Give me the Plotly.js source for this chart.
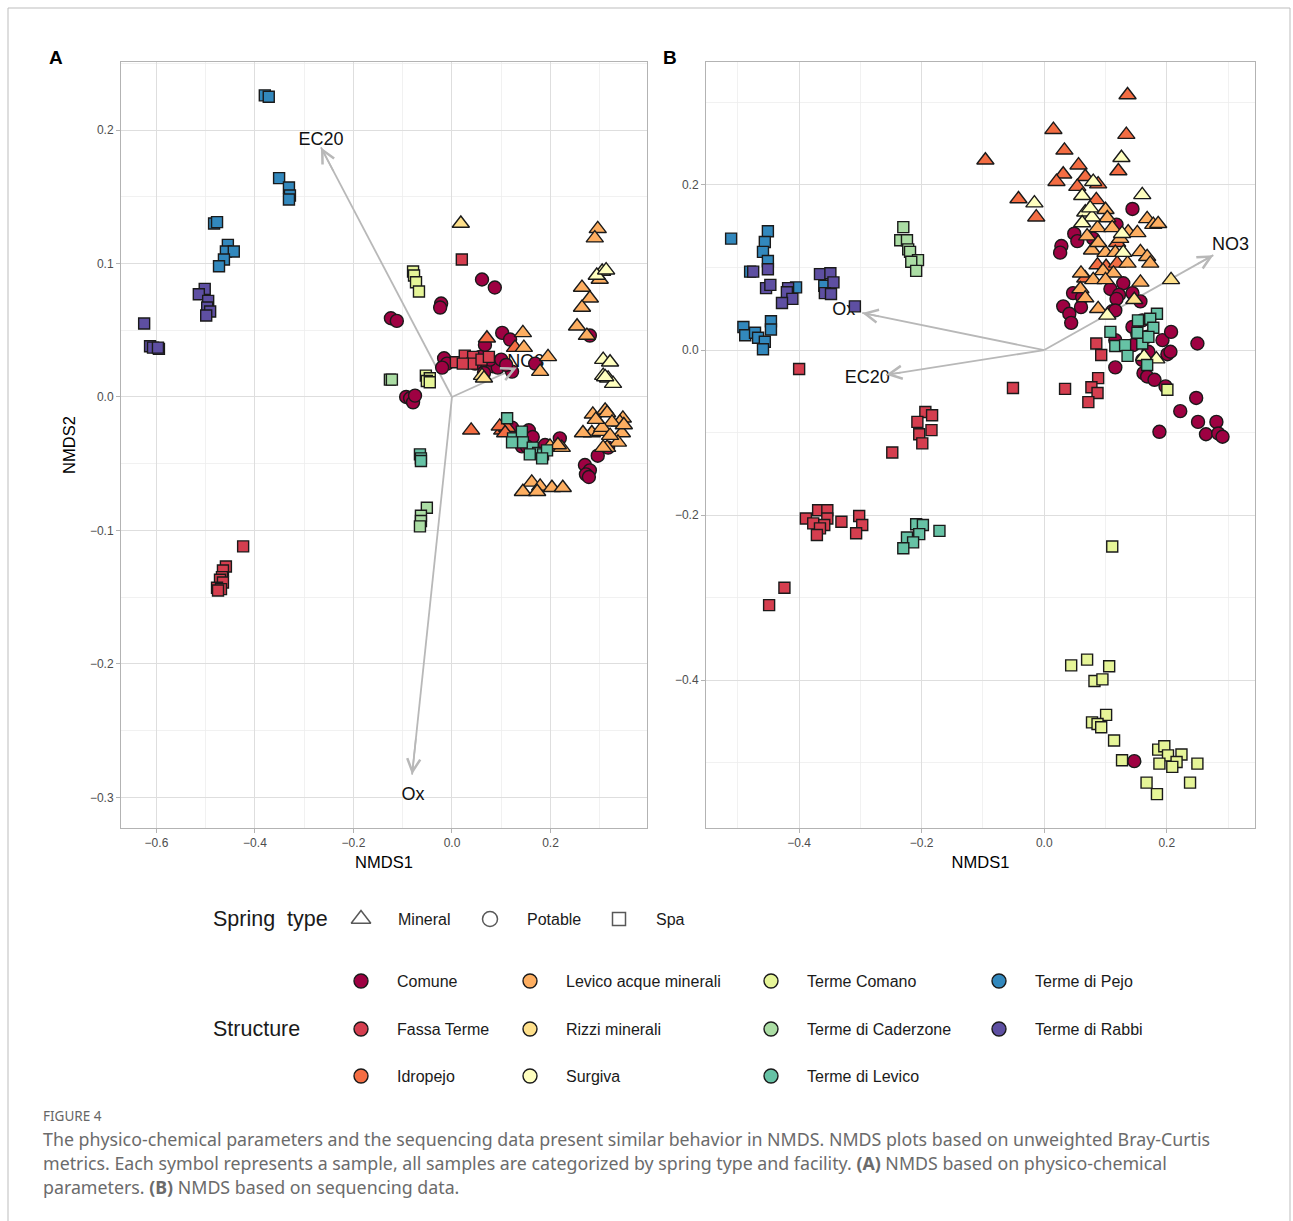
<!DOCTYPE html>
<html>
<head>
<meta charset="utf-8">
<script src="https://cdn.plot.ly/plotly-3.0.1.min.js"></script>
<style>html,body{margin:0;padding:0;background:#fff;}#chart{width:1293px;height:1221px;}</style>
</head>
<body>
<div id="chart"></div>
<script>
// ---------- categories ----------
const STRUCTS = ['Comune','Fassa Terme','Idropejo','Levico acque minerali','Rizzi minerali','Surgiva','Terme Comano','Terme di Caderzone','Terme di Levico','Terme di Pejo','Terme di Rabbi'];
const COLORS  = ['#9E0142','#D53E4F','#F46D43','#FDAE61','#FEE08B','#FFFFBF','#E6F598','#ABDDA4','#66C2A5','#3288BD','#5E4FA2'];
const TYPE_OF = ['Potable','Spa','Mineral','Mineral','Mineral','Mineral','Spa','Spa','Spa','Spa','Spa'];
const SPRING_TYPES = ['Mineral','Potable','Spa'];

// ---------- Panel A : physico-chemical NMDS ----------
const A_Comune = [[0.061,0.088],[0.087,0.082],[-0.022,0.070],[-0.024,0.067],[-0.124,0.059],[-0.112,0.057],[0.102,0.048],[0.118,0.043],[0.067,0.039],[-0.016,0.029],[-0.010,0.025],[-0.020,0.022],[0.057,0.030],[0.071,0.025],[0.083,0.023],[0.093,0.022],[0.077,0.028],[0.122,0.019],[0.169,0.025],[0.047,0.025],[0.065,0.018],[0.100,0.028],[0.110,0.024],[-0.093,0.000],[-0.085,-0.001],[-0.079,-0.004],[-0.075,0.001],[0.280,0.046],[0.122,-0.023],[0.156,-0.025],[0.164,-0.030],[0.142,-0.037],[0.152,-0.037],[0.189,-0.036],[0.219,-0.031],[0.296,-0.044],[0.317,-0.038],[0.270,-0.051],[0.280,-0.055],[0.272,-0.058],[0.278,-0.060]];
const A_Fassa = [[-0.424,-0.112],[-0.459,-0.127],[-0.465,-0.130],[-0.467,-0.135],[-0.471,-0.137],[-0.465,-0.139],[-0.477,-0.143],[-0.469,-0.144],[-0.475,-0.145],[0.020,0.103],[0.008,0.026],[0.026,0.031],[0.043,0.030],[0.041,0.025],[0.022,0.025],[0.060,0.028],[0.075,0.030]];
const A_Idropejo = [[0.039,-0.025],[0.102,-0.025],[0.112,-0.023],[0.097,-0.022],[0.108,-0.027],[0.128,0.037],[0.071,0.044]];
const A_LevicoAcque = [[0.296,0.126],[0.290,0.119],[0.300,0.088],[0.264,0.082],[0.280,0.074],[0.264,0.067],[0.254,0.053],[0.274,0.046],[0.144,0.048],[0.146,0.037],[0.195,0.030],[0.179,0.019],[0.286,-0.013],[0.311,-0.010],[0.315,-0.012],[0.347,-0.016],[0.341,-0.019],[0.325,-0.019],[0.284,-0.027],[0.266,-0.027],[0.301,-0.026],[0.305,-0.023],[0.345,-0.027],[0.337,-0.034],[0.315,-0.038],[0.307,-0.038],[0.349,-0.021],[0.292,-0.017],[0.321,-0.029],[0.199,-0.037],[0.223,-0.038],[0.215,-0.036],[0.162,-0.064],[0.144,-0.071],[0.179,-0.067],[0.203,-0.068],[0.225,-0.068],[0.173,-0.071]];
const A_Rizzi = [[0.018,0.130],[0.061,0.016],[0.065,0.014]];
const A_Surgiva = [[0.305,0.094],[0.294,0.091],[0.313,0.095],[0.307,0.028],[0.321,0.026],[0.307,0.016],[0.317,0.014],[0.327,0.010],[0.311,0.015]];
const A_Comano = [[-0.079,0.094],[-0.077,0.091],[-0.073,0.086],[-0.067,0.079],[-0.053,0.016],[-0.045,0.014],[-0.051,0.012],[-0.045,0.011]];
const A_Caderzone = [[-0.126,0.013],[-0.122,0.013],[-0.051,-0.083],[-0.063,-0.089],[-0.063,-0.093],[-0.065,-0.097]];
const A_LevicoTerme = [[-0.065,-0.043],[-0.063,-0.046],[-0.063,-0.048],[0.112,-0.016],[0.124,-0.031],[0.142,-0.026],[0.144,-0.034],[0.164,-0.038],[0.175,-0.042],[0.185,-0.043],[0.193,-0.040],[0.183,-0.046],[0.122,-0.034],[0.158,-0.043]];
const A_Pejo = [[-0.380,0.226],[-0.372,0.225],[-0.351,0.164],[-0.331,0.157],[-0.329,0.151],[-0.331,0.148],[-0.483,0.130],[-0.477,0.131],[-0.455,0.114],[-0.459,0.109],[-0.443,0.109],[-0.463,0.103],[-0.473,0.098]];
const A_Rabbi = [[-0.502,0.081],[-0.514,0.077],[-0.495,0.072],[-0.497,0.067],[-0.491,0.064],[-0.499,0.061],[-0.625,0.055],[-0.613,0.038],[-0.607,0.037],[-0.595,0.036],[-0.597,0.037]];
const A_VECTORS = ['EC20','Ox','NO3'];
const A_VEC_X = [-0.266,-0.081,0.132];
const A_VEC_Y = [0.187,-0.283,0.022];
const A_LAB_X = [-0.266,-0.079,0.150];
const A_LAB_Y = [0.192,-0.299,0.026];

// ---------- Panel B : sequencing NMDS ----------
const B_Comune = [[0.144,0.171],[0.118,0.152],[0.080,0.135],[0.049,0.141],[0.054,0.132],[0.028,0.126],[0.026,0.118],[0.129,0.081],[0.108,0.074],[0.122,0.067],[0.118,0.062],[0.144,0.069],[0.157,0.059],[0.047,0.069],[0.062,0.064],[0.060,0.052],[0.031,0.053],[0.041,0.044],[0.044,0.033],[0.111,0.047],[0.116,0.048],[0.160,0.036],[0.144,0.028],[0.152,0.019],[0.167,0.016],[0.193,0.012],[0.207,0.022],[0.116,0.012],[0.145,0.006],[0.170,-0.002],[0.160,-0.012],[0.201,-0.005],[0.206,-0.002],[0.116,-0.021],[0.162,-0.028],[0.168,-0.032],[0.180,-0.036],[0.198,-0.044],[0.250,0.008],[0.248,-0.058],[0.222,-0.074],[0.251,-0.087],[0.281,-0.087],[0.264,-0.102],[0.284,-0.101],[0.291,-0.105],[0.188,-0.099],[0.147,-0.498]];
const B_Fassa = [[-0.400,-0.023],[-0.051,-0.046],[-0.194,-0.075],[-0.183,-0.079],[-0.207,-0.087],[-0.204,-0.102],[-0.184,-0.097],[-0.199,-0.113],[-0.248,-0.124],[-0.369,-0.194],[-0.354,-0.194],[-0.389,-0.204],[-0.354,-0.204],[-0.377,-0.210],[-0.359,-0.212],[-0.366,-0.216],[-0.371,-0.224],[-0.331,-0.208],[-0.302,-0.201],[-0.297,-0.212],[-0.307,-0.222],[-0.424,-0.288],[-0.449,-0.309],[0.085,0.008],[0.093,-0.006],[0.088,-0.034],[0.077,-0.045],[0.087,-0.052],[0.072,-0.063],[0.034,-0.047]];
const B_Idropejo = [[0.136,0.309],[0.015,0.267],[0.134,0.261],[0.033,0.242],[0.056,0.224],[0.031,0.213],[0.020,0.204],[0.067,0.210],[0.088,0.201],[0.121,0.217],[0.054,0.198],[-0.042,0.183],[-0.013,0.161],[0.085,0.182],[0.119,0.130],[0.087,0.103],[0.101,0.101],[0.119,0.105],[0.067,0.087],[-0.096,0.230]];
const B_LevicoAcque = [[0.168,0.159],[0.178,0.152],[0.186,0.153],[0.100,0.170],[0.103,0.160],[0.087,0.148],[0.111,0.148],[0.070,0.138],[0.137,0.143],[0.152,0.142],[0.078,0.121],[0.100,0.118],[0.116,0.118],[0.136,0.105],[0.157,0.119],[0.168,0.113],[0.173,0.105],[0.096,0.096],[0.113,0.093],[0.060,0.093],[0.080,0.085],[0.100,0.085],[0.157,0.082],[0.059,0.074],[0.067,0.063],[0.088,0.050],[0.124,0.135],[0.088,0.130]];
const B_Rizzi = [[0.207,0.085],[0.147,0.061]];
const B_Surgiva = [[0.126,0.233],[0.160,0.188],[-0.016,0.178],[0.080,0.204],[0.062,0.187],[0.067,0.167],[0.078,0.161],[0.062,0.154],[0.127,0.141],[0.129,0.118],[0.075,0.172],[0.103,0.042],[0.163,-0.008],[0.183,-0.011]];
const B_Comano = [[0.044,-0.382],[0.070,-0.375],[0.106,-0.383],[0.082,-0.401],[0.095,-0.399],[0.101,-0.442],[0.078,-0.451],[0.087,-0.453],[0.093,-0.457],[0.114,-0.473],[0.127,-0.497],[0.186,-0.484],[0.196,-0.480],[0.202,-0.491],[0.224,-0.490],[0.216,-0.499],[0.188,-0.501],[0.209,-0.505],[0.250,-0.501],[0.167,-0.524],[0.238,-0.524],[0.184,-0.538],[0.111,-0.238],[0.201,-0.048]];
const B_Caderzone = [[-0.230,0.149],[-0.235,0.133],[-0.224,0.133],[-0.222,0.122],[-0.219,0.119],[-0.206,0.109],[-0.217,0.107],[-0.209,0.096]];
const B_LevicoTerme = [[-0.209,-0.211],[-0.198,-0.212],[-0.171,-0.219],[-0.224,-0.227],[-0.204,-0.223],[-0.214,-0.233],[-0.230,-0.240],[0.184,0.044],[0.173,0.038],[0.153,0.036],[0.178,0.027],[0.108,0.022],[0.116,0.005],[0.132,0.006],[0.160,0.008],[0.136,-0.007],[0.168,-0.018],[0.152,0.021],[0.170,0.016]];
const B_Pejo = [[-0.511,0.135],[-0.451,0.144],[-0.456,0.131],[-0.459,0.119],[-0.451,0.108],[-0.480,0.095],[-0.405,0.076],[-0.359,0.078],[-0.491,0.028],[-0.488,0.018],[-0.472,0.021],[-0.467,0.015],[-0.456,0.010],[-0.459,0.001],[-0.446,0.035],[-0.446,0.025]];
const B_Rabbi = [[-0.475,0.095],[-0.451,0.098],[-0.454,0.075],[-0.447,0.079],[-0.418,0.075],[-0.420,0.070],[-0.411,0.062],[-0.428,0.057],[-0.366,0.092],[-0.349,0.093],[-0.344,0.082],[-0.358,0.069],[-0.348,0.068],[-0.309,0.053]];
const B_VECTORS = ['NO3','Ox','EC20'];
const B_VEC_X = [0.276,-0.297,-0.258];
const B_VEC_Y = [0.115,0.045,-0.030];
const B_LAB_X = [0.304,-0.327,-0.289];
const B_LAB_Y = [0.127,0.048,-0.034];

const A_DATA = [A_Comune,A_Fassa,A_Idropejo,A_LevicoAcque,A_Rizzi,A_Surgiva,A_Comano,A_Caderzone,A_LevicoTerme,A_Pejo,A_Rabbi];
const B_DATA = [B_Comune,B_Fassa,B_Idropejo,B_LevicoAcque,B_Rizzi,B_Surgiva,B_Comano,B_Caderzone,B_LevicoTerme,B_Pejo,B_Rabbi];

// ---------- styling ----------
const SYM = {Mineral:'triangle-up', Potable:'circle', Spa:'square'};
const SIZE = {Mineral:15, Potable:13, Spa:11};
const W = 1293, H = 1221;
const FONT = 'Liberation Sans, Arial, sans-serif';
const ARROW_COL = '#B8B8B8';

const traces = [];
const annotations = [];

function addVectors(names, vx, vy, lx, ly, xa, ya){
  for (let i=0;i<names.length;i++){
    traces.push({type:'scatter', mode:'lines', x:[0,vx[i]], y:[0,vy[i]], xaxis:xa, yaxis:ya,
      line:{color:ARROW_COL, width:1.8}, hoverinfo:'skip'});
    annotations.push({xref:xa, yref:ya, axref:xa, ayref:ya, x:vx[i], y:vy[i], ax:vx[i]*0.9, ay:vy[i]*0.9,
      showarrow:true, arrowhead:5, arrowsize:1.6, arrowwidth:1.6, arrowcolor:ARROW_COL, text:''});
  }
  traces.push({type:'scatter', mode:'text', x:lx, y:ly, text:names, xaxis:xa, yaxis:ya,
    textfont:{family:FONT, size:18, color:'#111'}, textposition:'middle center', hoverinfo:'skip'});
}
function addPoints(data, xa, ya){
  data.forEach((pts, k)=>{
    const t = TYPE_OF[k];
    traces.push({type:'scatter', mode:'markers', xaxis:xa, yaxis:ya,
      x:pts.map(p=>p[0]), y:pts.map(p=>p[1]), name:STRUCTS[k],
      marker:{symbol:SYM[t], size:SIZE[t], color:COLORS[k], line:{color:'#1A1A1A', width:1.4}}});
  });
}
addVectors(A_VECTORS, A_VEC_X, A_VEC_Y, A_LAB_X, A_LAB_Y, 'x', 'y');
addPoints(A_DATA, 'x', 'y');
addVectors(B_VECTORS, B_VEC_X, B_VEC_Y, B_LAB_X, B_LAB_Y, 'x2', 'y2');
addPoints(B_DATA, 'x2', 'y2');

// ---------- legend (drawn on a hidden pixel axis) ----------
const SHAPE_LEG_X = [361, 490, 619];
const SHAPE_LEG_Y = 919;
traces.push({type:'scatter', mode:'markers', xaxis:'x3', yaxis:'y3', x:SHAPE_LEG_X, y:SHAPE_LEG_X.map(()=>SHAPE_LEG_Y),
  marker:{symbol:SPRING_TYPES.map(s=>SYM[s]+'-open'), size:[17,15,13], color:'#111', line:{width:1.5}}, hoverinfo:'skip'});
SPRING_TYPES.forEach((s,i)=>annotations.push({xref:'x3', yref:'y3', x:SHAPE_LEG_X[i]+35, y:SHAPE_LEG_Y, text:s, showarrow:false,
  xanchor:'left', yanchor:'middle', font:{family:FONT, size:16, color:'#1A1A1A'}}));
annotations.push({xref:'x3', yref:'y3', x:211, y:SHAPE_LEG_Y, text:'Spring  type', showarrow:false, xanchor:'left', yanchor:'middle', font:{family:FONT, size:21.5, color:'#1A1A1A'}});
annotations.push({xref:'x3', yref:'y3', x:211, y:1029, text:'Structure', showarrow:false, xanchor:'left', yanchor:'middle', font:{family:FONT, size:21.5, color:'#1A1A1A'}});
const LEG_COL_X = [361, 530, 771, 999];
const LEG_ROW_Y = [981, 1029, 1076];
const legX = STRUCTS.map((s,i)=>LEG_COL_X[Math.floor(i/3)]);
const legY = STRUCTS.map((s,i)=>LEG_ROW_Y[i%3]);
traces.push({type:'scatter', mode:'markers', xaxis:'x3', yaxis:'y3', x:legX, y:legY,
  marker:{symbol:'circle', size:14, color:COLORS, line:{color:'#1A1A1A', width:1.4}}, hoverinfo:'skip'});
STRUCTS.forEach((s,i)=>annotations.push({xref:'x3', yref:'y3', x:legX[i]+34, y:legY[i], text:s, showarrow:false,
  xanchor:'left', yanchor:'middle', font:{family:FONT, size:16, color:'#1A1A1A'}}));

// ---------- panel letters, caption ----------
annotations.push({xref:'paper', yref:'paper', x:47/W, y:1-58/H, text:'<b>A</b>', showarrow:false, xanchor:'left', yanchor:'middle', font:{family:FONT, size:19, color:'#000'}});
annotations.push({xref:'paper', yref:'paper', x:661/W, y:1-58/H, text:'<b>B</b>', showarrow:false, xanchor:'left', yanchor:'middle', font:{family:FONT, size:19, color:'#000'}});
const CAP_FONT = 'Noto Sans, Open Sans, sans-serif';
annotations.push({xref:'paper', yref:'paper', x:41/W, y:1-1116/H, text:'FIGURE 4', showarrow:false, xanchor:'left', yanchor:'middle', font:{family:CAP_FONT, size:13.5, color:'#666'}});
const CAPTION = [
  'The physico-chemical parameters and the sequencing data present similar behavior in NMDS. NMDS plots based on unweighted Bray-Curtis',
  'metrics. Each symbol represents a sample, all samples are categorized by spring type and facility. <b>(A)</b> NMDS based on physico-chemical',
  'parameters. <b>(B)</b> NMDS based on sequencing data.'
];
const CAP_Y = [1139, 1163, 1187];
CAPTION.forEach((c,i)=>annotations.push({xref:'paper', yref:'paper', x:41/W, y:1-CAP_Y[i]/H, text:c, showarrow:false, xanchor:'left', yanchor:'middle', font:{family:CAP_FONT, size:17.8, color:'#6B6B6B'}}));

// ---------- axes ----------
function axis(extra){
  return Object.assign({
    showline:true, mirror:true, linecolor:'#B3B3B3', linewidth:1,
    ticks:'outside', ticklen:4, tickcolor:'#B3B3B3', tickwidth:1,
    tickfont:{family:FONT, size:12, color:'#4D4D4D'},
    showgrid:true, gridcolor:'#DEDEDE', gridwidth:1, zeroline:false, tickformat:'.1f', tick0:0
  }, extra);
}
const yDom = [1-828/H, 1-62/H];
const TITLE_FONT = {family:FONT, size:16.5, color:'#000'};
const layout = {
  width:W, height:H, margin:{l:0,r:0,t:0,b:0}, paper_bgcolor:'#fff', plot_bgcolor:'rgba(0,0,0,0)', showlegend:false,
  xaxis: axis({domain:[121/W, 647/W], range:[-0.672,0.396], dtick:0.2, anchor:'y',
    minor:{dtick:0.1, showgrid:true, gridcolor:'#EEEEEE', gridwidth:0.8, ticks:''},
    title:{text:'NMDS1', font:TITLE_FONT, standoff:7}}),
  yaxis: axis({domain:yDom, range:[-0.323,0.251], dtick:0.1, anchor:'x',
    minor:{dtick:0.05, showgrid:true, gridcolor:'#EEEEEE', gridwidth:0.8, ticks:''},
    title:{text:'NMDS2', font:TITLE_FONT, standoff:10}}),
  xaxis2: axis({domain:[706/W, 1255/W], range:[-0.552,0.344], dtick:0.2, anchor:'y2',
    minor:{dtick:0.1, showgrid:true, gridcolor:'#EEEEEE', gridwidth:0.8, ticks:''},
    title:{text:'NMDS1', font:TITLE_FONT, standoff:7}}),
  yaxis2: axis({domain:yDom, range:[-0.579,0.349], dtick:0.2, anchor:'x2',
    minor:{dtick:0.1, showgrid:true, gridcolor:'#EEEEEE', gridwidth:0.8, ticks:''}}),
  xaxis3: {domain:[0,1], range:[0,W], visible:false, fixedrange:true, anchor:'y3'},
  yaxis3: {domain:[0,1], range:[H,0], visible:false, fixedrange:true, anchor:'x3'},
  annotations: annotations,
  shapes:[{type:'rect', xref:'paper', yref:'paper', x0:8/W, x1:1290/W, y0:-0.01, y1:1-8/H, line:{color:'#BDBDBD', width:1}, fillcolor:'rgba(0,0,0,0)', layer:'below'}]
};
Plotly.newPlot('chart', traces, layout, {displayModeBar:false, staticPlot:true});
</script>
</body>
</html>
